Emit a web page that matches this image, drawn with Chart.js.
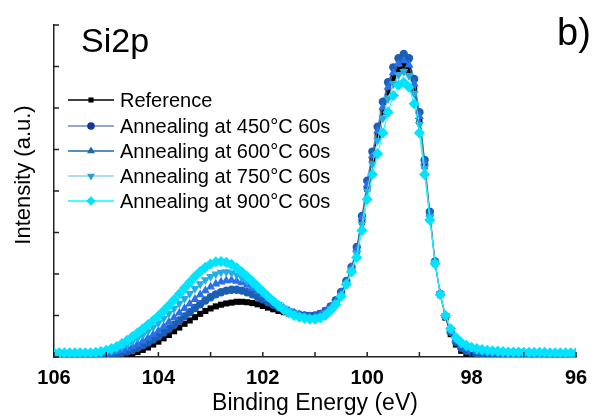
<!DOCTYPE html>
<html><head><meta charset="utf-8">
<script src="https://cdn.jsdelivr.net/npm/chart.js@4/dist/chart.umd.min.js"></script>
<style>html,body{margin:0;padding:0;background:#fff;}canvas{display:block;}</style>
</head><body>
<canvas id="c" width="597" height="417"></canvas>
<script>
const energies = [106.0,105.9,105.8,105.7,105.6,105.5,105.4,105.3,105.2,105.1,
105.0,104.9,104.8,104.7,104.6,104.5,104.4,104.3,104.2,104.1,
104.0,103.9,103.8,103.7,103.6,103.5,103.4,103.3,103.2,103.1,
103.0,102.9,102.8,102.7,102.6,102.5,102.4,102.3,102.2,102.1,
102.0,101.9,101.8,101.7,101.6,101.5,101.4,101.3,101.2,101.1,
101.0,100.9,100.8,100.7,100.6,100.5,100.4,100.3,100.2,100.1,
100.0,99.9,99.8,99.7,99.6,99.5,99.4,99.3,99.2,99.1,
99.0,98.9,98.8,98.7,98.6,98.5,98.4,98.3,98.2,98.1,
98.0,97.9,97.8,97.7,97.6,97.5,97.4,97.3,97.2,97.1,
97.0,96.9,96.8,96.7,96.6,96.5,96.4,96.3,96.2,96.1,
96.0];
const reference = [0.01,0.01,0.01,0.01,0.01,0.01,0.01,0.01,0.01,0.01,
0.01,0.01,0.02,0.03,0.05,0.08,0.12,0.17,0.23,0.30,
0.37,0.45,0.53,0.62,0.71,0.80,0.88,0.96,1.04,1.11,
1.17,1.22,1.26,1.29,1.31,1.33,1.33,1.32,1.30,1.27,
1.23,1.19,1.15,1.11,1.08,1.05,1.03,1.01,1.00,1.00,
1.01,1.05,1.12,1.22,1.37,1.56,1.80,2.12,2.55,3.25,
4.05,4.75,5.35,5.90,6.38,6.72,6.93,7.02,6.92,6.45,
5.70,4.60,3.40,2.25,1.50,0.95,0.55,0.30,0.15,0.07,
0.03,0.02,0.01,0.01,0.01,0.01,0.01,0.01,0.01,0.01,
0.01,0.01,0.01,0.01,0.01,0.01,0.01,0.01,0.01,0.01,
0.01];
const anneal450 = [0.03,0.03,0.03,0.03,0.03,0.03,0.03,0.03,0.03,0.04,
0.05,0.06,0.08,0.10,0.13,0.17,0.22,0.28,0.35,0.42,
0.50,0.59,0.68,0.78,0.88,0.98,1.08,1.18,1.27,1.36,
1.44,1.51,1.56,1.60,1.62,1.62,1.60,1.56,1.51,1.45,
1.39,1.32,1.26,1.20,1.14,1.09,1.05,1.02,1.00,0.99,
1.00,1.04,1.11,1.22,1.37,1.57,1.83,2.17,2.65,3.40,
4.25,4.95,5.55,6.15,6.62,6.98,7.20,7.30,7.20,6.70,
5.90,4.75,3.50,2.30,1.52,0.98,0.60,0.36,0.22,0.15,
0.11,0.09,0.08,0.07,0.06,0.06,0.05,0.05,0.05,0.05,
0.04,0.04,0.04,0.04,0.04,0.04,0.04,0.04,0.04,0.04,
0.04];
const anneal600 = [0.05,0.05,0.05,0.05,0.05,0.05,0.05,0.05,0.06,0.07,
0.08,0.10,0.13,0.16,0.20,0.25,0.31,0.38,0.46,0.54,
0.63,0.73,0.84,0.95,1.06,1.17,1.28,1.39,1.50,1.60,
1.69,1.76,1.81,1.84,1.85,1.83,1.79,1.73,1.66,1.58,
1.50,1.41,1.33,1.25,1.18,1.11,1.06,1.02,0.99,0.97,
0.98,1.02,1.09,1.20,1.35,1.55,1.81,2.15,2.60,3.35,
4.15,4.85,5.45,6.02,6.50,6.85,7.06,7.14,7.04,6.58,
5.80,4.70,3.45,2.30,1.53,1.00,0.63,0.40,0.27,0.20,
0.16,0.13,0.11,0.10,0.09,0.08,0.08,0.07,0.07,0.07,
0.06,0.06,0.06,0.06,0.06,0.06,0.06,0.06,0.06,0.06,
0.06];
const anneal750 = [0.08,0.08,0.08,0.08,0.08,0.08,0.08,0.08,0.09,0.10,
0.12,0.15,0.19,0.24,0.30,0.37,0.45,0.53,0.62,0.72,
0.82,0.93,1.05,1.17,1.29,1.41,1.53,1.65,1.76,1.86,
1.94,2.00,2.04,2.05,2.03,1.98,1.91,1.83,1.74,1.64,
1.54,1.44,1.35,1.26,1.18,1.11,1.05,1.00,0.97,0.95,
0.95,0.98,1.05,1.16,1.30,1.48,1.75,2.10,2.50,3.20,
4.00,4.65,5.22,5.75,6.22,6.58,6.80,6.88,6.78,6.35,
5.60,4.55,3.38,2.28,1.52,1.00,0.66,0.44,0.32,0.25,
0.20,0.17,0.15,0.14,0.13,0.12,0.11,0.10,0.10,0.10,
0.09,0.09,0.09,0.09,0.09,0.09,0.09,0.09,0.09,0.09,
0.09];
const anneal900 = [0.10,0.10,0.10,0.10,0.10,0.10,0.10,0.10,0.11,0.13,
0.16,0.20,0.25,0.32,0.40,0.49,0.58,0.68,0.78,0.88,
0.99,1.11,1.24,1.38,1.52,1.66,1.80,1.94,2.06,2.16,
2.24,2.29,2.30,2.28,2.23,2.15,2.05,1.94,1.82,1.70,
1.58,1.46,1.35,1.24,1.14,1.06,1.00,0.96,0.93,0.91,
0.91,0.94,1.00,1.12,1.26,1.46,1.75,2.05,2.40,3.05,
3.80,4.40,4.90,5.40,5.90,6.30,6.55,6.62,6.50,6.10,
5.40,4.40,3.30,2.25,1.50,1.00,0.68,0.47,0.35,0.28,
0.23,0.20,0.18,0.16,0.15,0.14,0.13,0.12,0.12,0.12,
0.11,0.11,0.11,0.11,0.11,0.10,0.10,0.10,0.10,0.10,
0.10];
const seriesNames = ['Reference','Annealing at 450°C 60s','Annealing at 600°C 60s','Annealing at 750°C 60s','Annealing at 900°C 60s'];
const xTickValues = [96,97,98,99,100,101,102,103,104,105,106];
const yTickValues = [0,1,2,3,4,5,6,7,8];

const FONT = '"Liberation Sans", Arial, sans-serif';
const seriesValues = [reference, anneal450, anneal600, anneal750, anneal900];
const lineColors = ['#000000','#7088c0','#1f6aa5','#8fd0ea','#00ffff'];
const markerColors = ['#000000','#1a5fb4','#2a70e8','#22aee6','#00e4ff'];
const legendMarkerColors = ['#000000','#12389a','#1f6aa5','#2a9fd6','#00e4ff'];
const markerStyles = ['rect','circle','triangle','triangle','rectRot'];
const markerRot = [0,0,0,180,0];
const markerRadius = [4.3,4.2,5.2,5.2,5.6];
const legendRadius = [3.6,3.8,4.6,4.6,4.8];

const datasets = seriesValues.map((vals, k) => ({
  label: seriesNames[k],
  data: vals.map((v, i) => ({x: energies[i], y: v})),
  borderColor: lineColors[k],
  backgroundColor: markerColors[k],
  borderWidth: 1,
  pointStyle: markerStyles[k],
  pointRotation: markerRot[k],
  pointRadius: markerRadius[k],
  pointBackgroundColor: markerColors[k],
  pointBorderColor: markerColors[k],
  pointBorderWidth: 0,
  tension: 0,
  order: 5 - k
}));

const decor = {
  id: 'decor',
  afterDraw(chart) {
    const {ctx, scales: {x, y}} = chart;
    ctx.save();
    ctx.strokeStyle = '#222';
    ctx.lineWidth = 1.5;
    xTickValues.forEach(v => {
      const px = x.getPixelForValue(v);
      ctx.beginPath(); ctx.moveTo(px, y.bottom); ctx.lineTo(px, y.bottom - 5); ctx.stroke();
    });
    yTickValues.forEach(v => {
      const py = y.getPixelForValue(v);
      ctx.beginPath(); ctx.moveTo(x.left, py); ctx.lineTo(x.left + 5, py); ctx.stroke();
    });
    // legend
    const rowY = [100, 126, 151, 176, 201];
    seriesNames.forEach((name, k) => {
      const ry = rowY[k];
      ctx.strokeStyle = lineColors[k];
      ctx.lineWidth = 1.5;
      ctx.beginPath(); ctx.moveTo(68, ry); ctx.lineTo(114, ry); ctx.stroke();
      ctx.fillStyle = legendMarkerColors[k];
      ctx.strokeStyle = legendMarkerColors[k];
      Chart.helpers.drawPoint(ctx, {pointStyle: markerStyles[k], rotation: markerRot[k], radius: legendRadius[k], borderWidth: 0}, 91, ry);
      ctx.fillStyle = '#000';
      ctx.font = '20px ' + FONT;
      ctx.textBaseline = 'middle';
      ctx.textAlign = 'left';
      ctx.fillText(name, 120, ry + 1);
    });
    // texts
    ctx.fillStyle = '#000';
    ctx.textBaseline = 'alphabetic';
    ctx.font = '34px ' + FONT;
    ctx.fillText('Si2p', 81, 52);
    ctx.font = '38px ' + FONT;
    ctx.fillText('b)', 557, 45);
    ctx.save();
    ctx.translate(24, 175);
    ctx.rotate(-Math.PI / 2);
    ctx.font = '22px ' + FONT;
    ctx.textAlign = 'center';
    ctx.textBaseline = 'middle';
    ctx.fillText('Intensity (a.u.)', 0, 0);
    ctx.restore();
    ctx.restore();
  }
};

new Chart(document.getElementById('c'), {
  type: 'line',
  data: {datasets},
  options: {
    responsive: false,
    animation: false,
    devicePixelRatio: 1,
    layout: {padding: {left: 0, top: 25, right: 21, bottom: 0}},
    plugins: {legend: {display: false}, tooltip: {enabled: false}},
    scales: {
      x: {
        type: 'linear', min: 96, max: 106, reverse: true,
        grid: {display: false, drawTicks: false},
        border: {display: true, color: '#222', width: 1.5},
        ticks: {stepSize: 2, color: '#000', padding: 9, font: {family: FONT, size: 20, weight: 'bold'}},
        title: {display: true, text: 'Binding Energy (eV)', color: '#000', padding: 0, font: {family: FONT, size: 23}},
        afterFit(scale) { scale.height = 60; }
      },
      y: {
        type: 'linear', min: 0, max: 8,
        grid: {display: false, drawTicks: false},
        border: {display: true, color: '#222', width: 1.5},
        ticks: {display: false, stepSize: 1},
        afterFit(scale) { scale.width = 54; }
      }
    }
  },
  plugins: [decor]
});
</script>
</body></html>
